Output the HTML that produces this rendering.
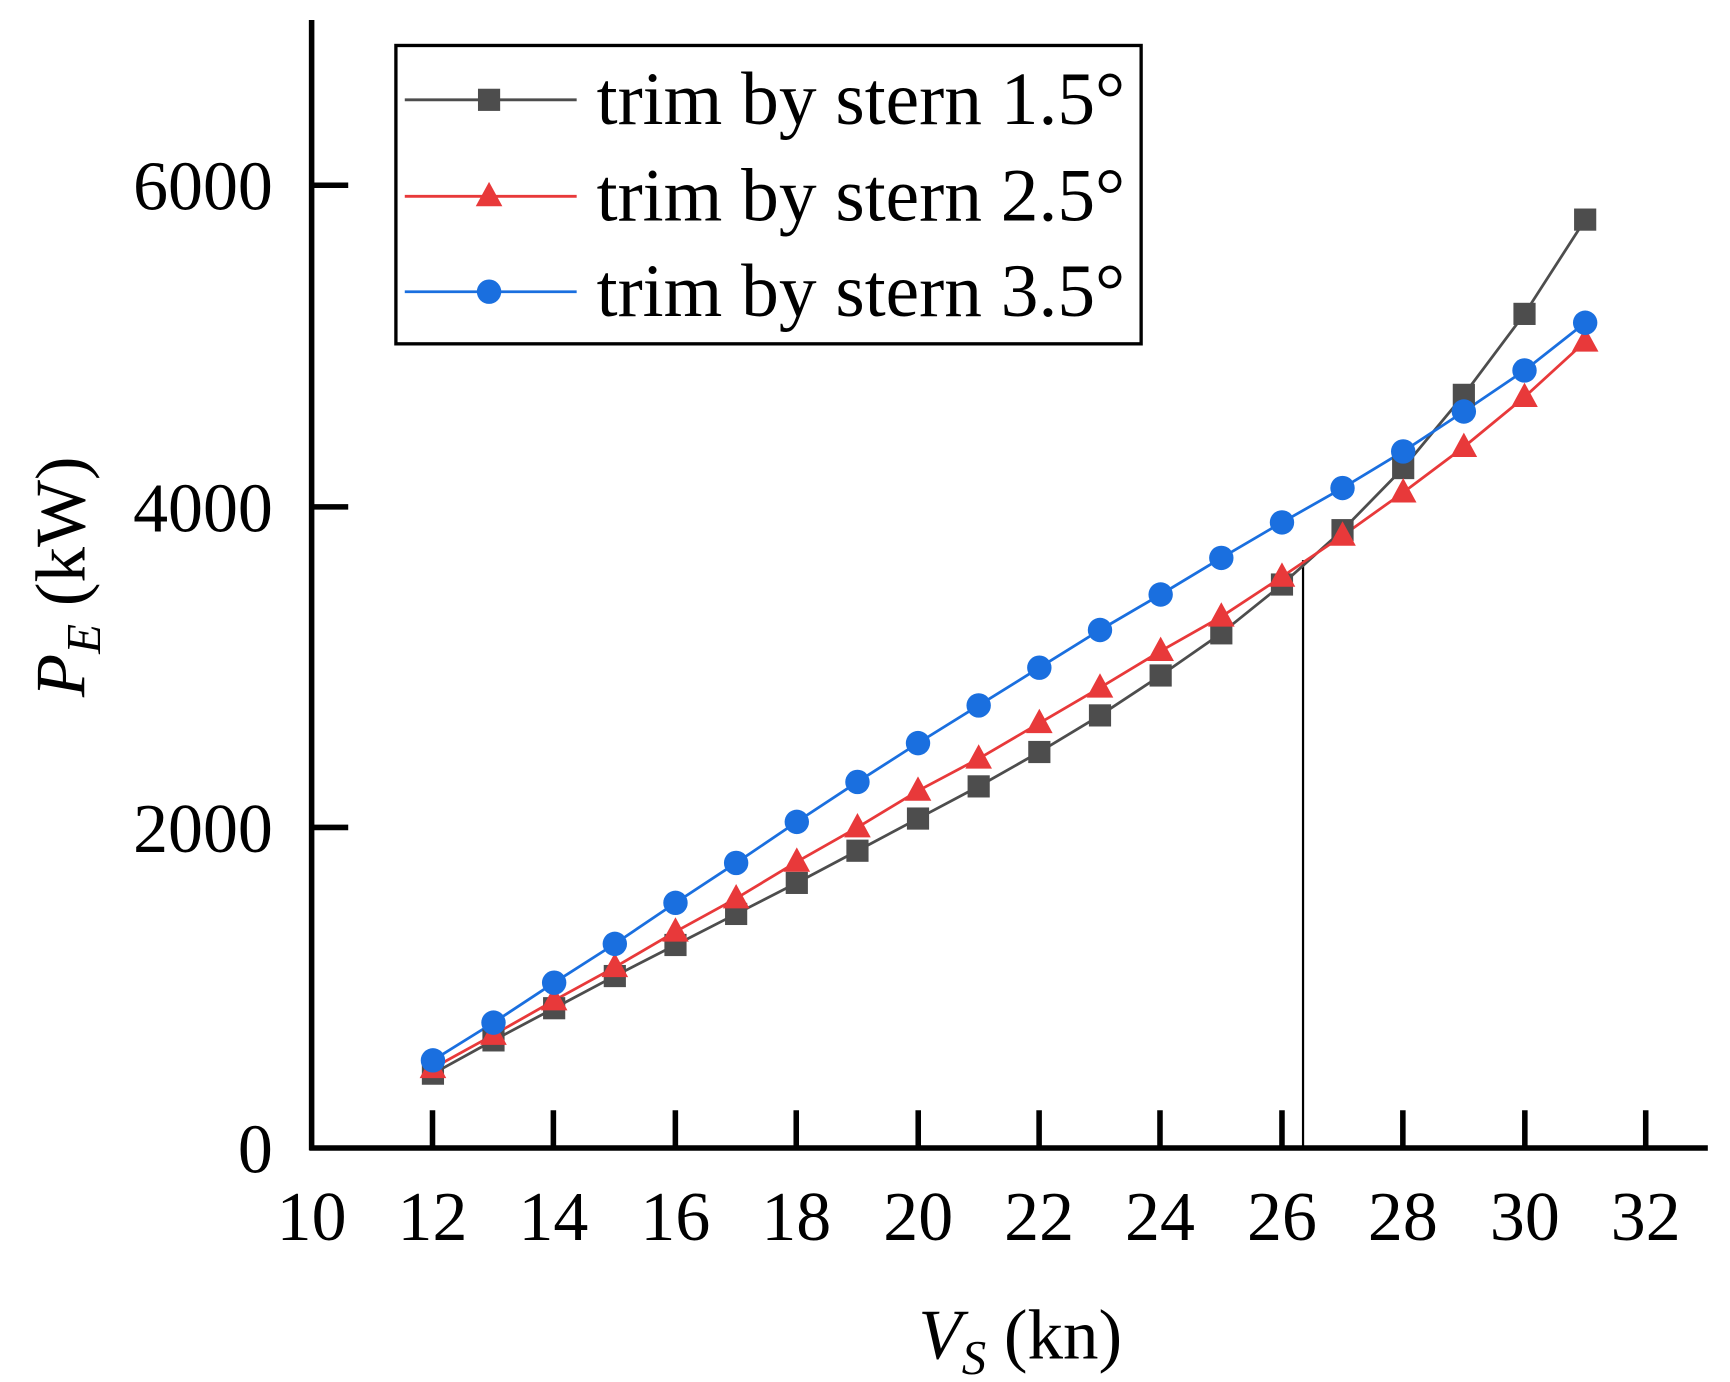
<!DOCTYPE html>
<html><head><meta charset="utf-8"><style>html,body{margin:0;padding:0;background:#fff}svg{display:block}</style></head>
<body>
<svg width="1730" height="1382" viewBox="0 0 1560 1246" preserveAspectRatio="none" xmlns="http://www.w3.org/2000/svg" font-family="'Liberation Serif', serif">
<defs>
<rect id="sq" x="-10" y="-10" width="20" height="20" fill="#4d4d4d"/>
<polygon id="tr" points="0,-13 12,9 -12,9" fill="#e8393a"/>
<circle id="ci" cx="0" cy="0" r="11" fill="#1a6fdf"/>
</defs>
<g stroke="#000" stroke-width="5" fill="none">
<line x1="281" y1="18" x2="281" y2="1037"/>
<line x1="279" y1="1035" x2="1540" y2="1035"/>
<path d="M281 746H314M281 457H314M281 167H314"/>
<path d="M390 1035V1001M499 1035V1001M609 1035V1001M718 1035V1001M828 1035V1001M937 1035V1001M1046 1035V1001M1156 1035V1001M1265 1035V1001M1375 1035V1001M1484 1035V1001"/>
</g>
<line x1="1175" y1="505" x2="1175" y2="1035" stroke="#000" stroke-width="2"/>
<g font-size="63" text-anchor="end">
<text x="246" y="1057">0</text><text x="246" y="768">2000</text><text x="246" y="479">4000</text><text x="246" y="189">6000</text>
</g>
<g font-size="63" text-anchor="middle">
<text x="281" y="1118">10</text><text x="390" y="1118">12</text><text x="499" y="1118">14</text><text x="609" y="1118">16</text><text x="718" y="1118">18</text><text x="828" y="1118">20</text><text x="937" y="1118">22</text><text x="1046" y="1118">24</text><text x="1156" y="1118">26</text><text x="1265" y="1118">28</text><text x="1375" y="1118">30</text><text x="1484" y="1118">32</text>
</g>
<text x="920" y="1225" font-size="64" text-anchor="middle"><tspan font-style="italic">V</tspan><tspan font-style="italic" font-size="44" dy="14">S</tspan><tspan dy="-14"> (kn)</tspan></text>
<text transform="translate(76,520) rotate(-90)" font-size="64" text-anchor="middle"><tspan font-style="italic">P</tspan><tspan font-style="italic" font-size="44" dy="14">E</tspan><tspan dy="-14"> (kW)</tspan></text>

<g fill="none" stroke-width="2.5">
<polyline stroke="#4d4d4d" points="390.4,968 445,938 499.7,909 554.4,880 609.1,852 663.8,824 718.5,796 773.2,767 827.8,738 882.5,709 937.2,678 991.9,645 1046.6,609 1101.3,571 1156,527 1210.6,478 1265.3,422 1320,356 1374.7,283 1429.4,198"/>
<polyline stroke="#e8393a" points="390.4,963 445,933 499.7,902 554.4,872 609.1,840 663.8,810 718.5,777 773.2,746 827.8,713 882.5,684 937.2,652 991.9,620 1046.6,587 1101.3,556 1156,520 1210.6,483 1265.3,444 1320,403 1374.7,358 1429.4,308"/>
<polyline stroke="#1a6fdf" points="390.4,956 445,922 499.7,886 554.4,851 609.1,814 663.8,778 718.5,741 773.2,705 827.8,670 882.5,636 937.2,602 991.9,568 1046.6,536 1101.3,503 1156,471 1210.6,440 1265.3,407 1320,371 1374.7,334 1429.4,291"/>
</g>
<g>
<use href="#sq" x="390.4" y="968"/><use href="#sq" x="445" y="938"/><use href="#sq" x="499.7" y="909"/><use href="#sq" x="554.4" y="880"/><use href="#sq" x="609.1" y="852"/><use href="#sq" x="663.8" y="824"/><use href="#sq" x="718.5" y="796"/><use href="#sq" x="773.2" y="767"/><use href="#sq" x="827.8" y="738"/><use href="#sq" x="882.5" y="709"/><use href="#sq" x="937.2" y="678"/><use href="#sq" x="991.9" y="645"/><use href="#sq" x="1046.6" y="609"/><use href="#sq" x="1101.3" y="571"/><use href="#sq" x="1156" y="527"/><use href="#sq" x="1210.6" y="478"/><use href="#sq" x="1265.3" y="422"/><use href="#sq" x="1320" y="356"/><use href="#sq" x="1374.7" y="283"/><use href="#sq" x="1429.4" y="198"/>
</g>
<g>
<use href="#tr" x="390.4" y="963"/><use href="#tr" x="445" y="933"/><use href="#tr" x="499.7" y="902"/><use href="#tr" x="554.4" y="872"/><use href="#tr" x="609.1" y="840"/><use href="#tr" x="663.8" y="810"/><use href="#tr" x="718.5" y="777"/><use href="#tr" x="773.2" y="746"/><use href="#tr" x="827.8" y="713"/><use href="#tr" x="882.5" y="684"/><use href="#tr" x="937.2" y="652"/><use href="#tr" x="991.9" y="620"/><use href="#tr" x="1046.6" y="587"/><use href="#tr" x="1101.3" y="556"/><use href="#tr" x="1156" y="520"/><use href="#tr" x="1210.6" y="483"/><use href="#tr" x="1265.3" y="444"/><use href="#tr" x="1320" y="403"/><use href="#tr" x="1374.7" y="358"/><use href="#tr" x="1429.4" y="308"/>
</g>
<g>
<use href="#ci" x="390.4" y="956"/><use href="#ci" x="445" y="922"/><use href="#ci" x="499.7" y="886"/><use href="#ci" x="554.4" y="851"/><use href="#ci" x="609.1" y="814"/><use href="#ci" x="663.8" y="778"/><use href="#ci" x="718.5" y="741"/><use href="#ci" x="773.2" y="705"/><use href="#ci" x="827.8" y="670"/><use href="#ci" x="882.5" y="636"/><use href="#ci" x="937.2" y="602"/><use href="#ci" x="991.9" y="568"/><use href="#ci" x="1046.6" y="536"/><use href="#ci" x="1101.3" y="503"/><use href="#ci" x="1156" y="471"/><use href="#ci" x="1210.6" y="440"/><use href="#ci" x="1265.3" y="407"/><use href="#ci" x="1320" y="371"/><use href="#ci" x="1374.7" y="334"/><use href="#ci" x="1429.4" y="291"/>
</g>

<rect x="357" y="41" width="672" height="269" fill="#fff" stroke="#000" stroke-width="3"/>
<g stroke-width="2.5">
<line x1="365" y1="90" x2="520" y2="90" stroke="#4d4d4d"/><rect x="431" y="80" width="20" height="20" fill="#4d4d4d"/>
<line x1="365" y1="177" x2="520" y2="177" stroke="#e8393a"/><polygon points="441,164 453,186 429,186" fill="#e8393a"/>
<line x1="365" y1="263" x2="520" y2="263" stroke="#1a6fdf"/><circle cx="441" cy="263" r="11" fill="#1a6fdf"/>
</g>
<g font-size="68">
<text x="538" y="112">trim by stern 1.5°</text>
<text x="538" y="199">trim by stern 2.5°</text>
<text x="538" y="285">trim by stern 3.5°</text>
</g>
</svg>
</body></html>
